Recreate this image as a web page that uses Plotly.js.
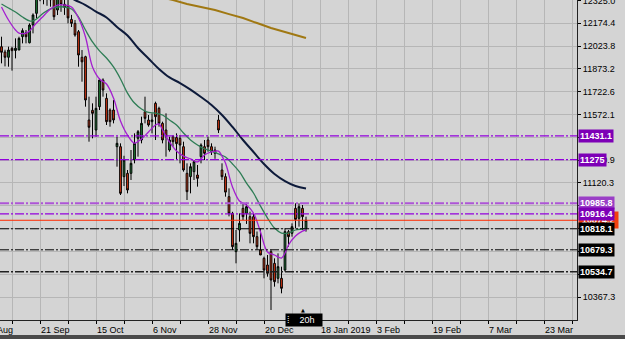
<!DOCTYPE html>
<html><head><meta charset="utf-8">
<script src="https://cdn.plot.ly/plotly-3.0.1.min.js"></script>
<style>html,body{margin:0;padding:0;background:#d4d4d4;overflow:hidden}
#wrap{position:relative;width:625px;height:339px}
#strip{position:absolute;left:0;top:335px;width:625px;height:4px;background:#4a4a4a}</style>
</head><body><div id="wrap"><div id="chart" style="width:625px;height:339px"></div><div id="strip"></div></div>
<script>
const dates = ['6 Sep','7 Sep','10 Sep','11 Sep','12 Sep','13 Sep','14 Sep','17 Sep','18 Sep','19 Sep','20 Sep','21 Sep','24 Sep','25 Sep','26 Sep','27 Sep','28 Sep',
'1 Oct','2 Oct','3 Oct','4 Oct','5 Oct','8 Oct','9 Oct','10 Oct','11 Oct','12 Oct','15 Oct','16 Oct','17 Oct','18 Oct','19 Oct','22 Oct','23 Oct','24 Oct','25 Oct','26 Oct','29 Oct','30 Oct','31 Oct',
'1 Nov','2 Nov','5 Nov','6 Nov','7 Nov','8 Nov','9 Nov','12 Nov','13 Nov','14 Nov','15 Nov','16 Nov','19 Nov','20 Nov','21 Nov','22 Nov','23 Nov','26 Nov','27 Nov','28 Nov','29 Nov','30 Nov',
'3 Dec','4 Dec','5 Dec','6 Dec','7 Dec','10 Dec','11 Dec','12 Dec','13 Dec','14 Dec','17 Dec','18 Dec','19 Dec','20 Dec','21 Dec','27 Dec','28 Dec',
'2 Jan','3 Jan','4 Jan','7 Jan','8 Jan','9 Jan','10 Jan','11 Jan','14 Jan'];
const openP  = [12020,11985,11950,12009,11995,11998,12086,12112,12046,12163,12240,12330,12420,12350,12380,12340,12262,12350,12300,12290,12200,12174,12119,11950,11954,11536,11600,11470,11624,11800,11679,11602,11602,11360,11360,11162,11184,11184,11272,11415,11404,11591,11536,11525,11646,11613,11514,11470,11338,11426,11420,11415,11360,11184,11162,11195,11173,11294,11360,11404,11360,11338,11536,11206,11162,11030,10920,10667,10810,10953,10920,10898,10898,10766,10678,10623,10579,10667,10590,10491,10491,10546,10799,10788,10953,10887,10953,10821];
const highP  = [12086,12000,12020,12020,12075,12086,12141,12130,12174,12240,12400,12460,12440,12400,12420,12370,12380,12400,12360,12330,12230,12196,12130,11998,11960,11690,11646,11690,11811,11811,11712,11613,11668,11426,11382,11300,11206,11338,11448,11470,11558,11690,11569,11580,11657,11624,11525,11580,11426,11437,11448,11437,11393,11250,11250,11272,11239,11382,11404,11426,11382,11360,11569,11250,11184,11085,10930,10810,10920,10986,10990,10931,10920,10800,10821,10634,10645,10680,10623,10656,10568,10821,10810,10854,10986,10986,10975,10898];
const lowP   = [11910,11890,11888,11862,11943,11998,12042,12042,12042,12108,12207,12320,12300,12290,12284,12196,12229,12250,12230,12174,12150,12086,11888,11789,11624,11393,11415,11426,11602,11690,11503,11492,11514,11228,11041,11100,11052,11140,11250,11294,11382,11514,11492,11448,11404,11492,11382,11294,11327,11360,11272,11250,11195,11008,11052,11140,11096,11250,11272,11327,11305,11280,11450,11140,11030,10900,10678,10590,10733,10876,10850,10722,10722,10680,10645,10491,10502,10282,10436,10458,10392,10535,10700,10766,10821,10832,10810,10799];
const closeP = [11983,11950,11998,11994,12010,12075,12126,12086,12163,12229,12340,12430,12350,12370,12330,12218,12350,12300,12280,12210,12174,12097,11965,11920,11668,11488,11580,11613,11800,11734,11525,11525,11536,11382,11052,11272,11074,11250,11382,11459,11514,11547,11503,11536,11558,11514,11404,11426,11404,11393,11380,11371,11206,11063,11228,11261,11151,11371,11316,11360,11327,11316,11470,11162,11060,10920,10700,10722,10854,10898,10964,10788,10766,10700,10645,10546,10524,10480,10469,10568,10425,10799,10766,10832,10880,10964,10898,10874];

// moving-average lines (bar position, price)
const slowMaX = [15,18,21,24,27,30,33,36,39,42,45,48,51,54,57,60,63,66,69,72,75,78,81,84,87];
const slowMaY = [12400,12365,12328,12295,12252,12213,12150,12094,12011,11942,11873,11817,11780,11737,11688,11635,11569,11490,11404,11325,11246,11180,11133,11100,11084];
const longMaX = [41,45,49,53,57,61,65,69,73,77,81,85,87];
const longMaY = [12370,12350,12328,12302,12281,12262,12235,12209,12176,12143,12117,12090,12077];
const midMaX = [0,2,4,6,8,9,10,12,14,16,18,20,22,24,26,28,30,32,34,36,38,40,42,44,46,48,50,52,54,56,58,60,62,64,66,68,70,72,74,76,78,80,82,84,86,87];
const midMaY = [12302,12275,12249,12216,12190,12190,12203,12242,12269,12282,12282,12269,12216,12130,12051,11992,11945,11886,11807,11714,11648,11609,11586,11582,11569,11536,11503,11450,11404,11371,11345,11331,11312,11292,11246,11193,11120,11054,10968,10889,10823,10790,10790,10810,10817,10823];
const fastMaX = [0,2,4,5,7,8,10,12,14,16,18,20,22,24,26,28,30,32,34,36,38,40,42,44,45,46,48,50,52,54,56,58,60,62,63,64,66,68,70,72,74,76,78,80,81,82,84,86,87];
const fastMaY = [12282,12196,12130,12110,12110,12124,12176,12223,12269,12295,12295,12282,12209,12084,11886,11807,11774,11681,11530,11437,11384,11411,11457,11503,11510,11470,11391,11331,11298,11279,11259,11305,11325,11331,11298,11252,11094,11001,10975,10922,10797,10665,10645,10625,10658,10711,10770,10803,10810];

const yTickVals = [12325.0,12174.4,12023.8,11873.2,11722.6,11572.1,11421.5,11270.9,11120.3,10969.7,10819.1,10668.5,10517.9,10367.3];
const yTickShown = [true,true,true,true,true,true,false,true,true,false,false,false,false,true];
const xLabelPos = [11,27,43,59,75,91,107,123,139,155];
const xLabelText = ['21 Sep','15 Oct','6 Nov','28 Nov','20 Dec','18 Jan 2019','3 Feb','19 Feb','7 Mar','23 Mar'];

const levelVals   = [11431.1, 11275, 10985.8, 10916.4, 10818.1, 10679.3, 10534.7];
const levelLabels = ['11431.1','11275','10985.8','10916.4','10818.1','10679.3','10534.7'];
const levelColors = ['#9200dc','#9200dc','#ad55d6','#9200dc','#000000','#000000','#202020'];
const levelWidths = [1.3,1.3,2,1.3,1,1,1.5];
const levelBoxes  = ['#7d00b6','#7d00b6','#9a3fc6','#7d00b6','#000000','#000000','#000000'];
const bidPrice = 10874.2;

const xIdx = dates.map((d,i)=>i);
const X0 = -0.43, X1 = 164.43;

const traces = [
 {type:'candlestick', x:xIdx, open:openP, high:highP, low:lowP, close:closeP, text:dates,
  increasing:{line:{color:'#000000',width:1}, fillcolor:'#1f8a3c'},
  decreasing:{line:{color:'#000000',width:1}, fillcolor:'#f23c14'},
  whiskerwidth:0, hoverinfo:'skip'},
 {type:'scatter', mode:'lines', x:longMaX, y:longMaY, line:{color:'#a07812',width:2}, hoverinfo:'skip'},
 {type:'scatter', mode:'lines', x:slowMaX, y:slowMaY, line:{color:'#0d1a3a',width:2,shape:'spline'}, hoverinfo:'skip'},
 {type:'scatter', mode:'lines', x:midMaX, y:midMaY, line:{color:'#2e7d55',width:1.3,shape:'spline'}, hoverinfo:'skip'},
 {type:'scatter', mode:'lines', x:fastMaX, y:fastMaY, line:{color:'#a41fd0',width:1.3,shape:'spline'}, hoverinfo:'skip'}
];

const gridVals = []; for (let v=3; v<=163; v+=8) gridVals.push(v);

const shapes = [];
levelVals.forEach((v,i)=>{
  shapes.push({type:'line', xref:'paper', x0:0, x1:1, yref:'y', y0:v, y1:v, layer:'above',
    line:{color:levelColors[i], width:levelWidths[i], dash:'9px,2px,2px,2px'}});
});
shapes.push({type:'line', xref:'paper', x0:0, x1:1, yref:'y', y0:bidPrice, y1:bidPrice, layer:'above', line:{color:'#ff2a00',width:1}});

const ann = [];
// current bid label (mostly hidden behind the level labels)
ann.push({xref:'paper', x:1, xanchor:'left', xshift:1, yref:'y', y:bidPrice, yanchor:'middle', text:'10874.2', showarrow:false,
  bgcolor:'#f2400f', borderpad:3, font:{family:'Liberation Sans', size:9, color:'#ffffff', weight:'bold'}});
levelVals.forEach((v,i)=>{
  ann.push({xref:'paper', x:1, xanchor:'left', xshift:1, yref:'y', y:v, yanchor:'middle', text:levelLabels[i], showarrow:false,
    bgcolor: levelBoxes[i], borderpad:1,
    font:{family:'Liberation Sans', size:9, color:'#ffffff', weight:'bold'}});
});
xLabelPos.forEach((p,i)=>{
  ann.push({xref:'x', x:p, xanchor:'left', xshift:-1, yref:'paper', y:0, yanchor:'top', yshift:-3, text:xLabelText[i], showarrow:false,
    font:{family:'Liberation Sans', size:9, color:'#000000'}});
});
ann.push({xref:'paper', x:(-5-X0)/(X1-X0), xanchor:'left', xshift:-1, yref:'paper', y:0, yanchor:'top', yshift:-3, text:'30 Aug', showarrow:false,
    font:{family:'Liberation Sans', size:9, color:'#000000'}});
ann.push({xref:'x', x:81, xanchor:'left', yref:'paper', y:0, yanchor:'middle', text:'⁞    20h', showarrow:false, width:34, align:'left',
    bgcolor:'#000000', borderpad:1, font:{family:'Liberation Sans', size:9, color:'#ffffff'}});
ann.push({xref:'x', x:86, xanchor:'center', yref:'paper', y:0, yanchor:'bottom', yshift:5, text:'▲', showarrow:false,
    font:{family:'DejaVu Sans', size:5, color:'#000000'}});

const layout = {
  width:625, height:339,
  margin:{l:0, r:48, t:0, b:19, pad:0},
  paper_bgcolor:'#d4d4d4', plot_bgcolor:'#d4d4d4',
  showlegend:false, hovermode:false, boxgap:0.3,
  font:{family:'Liberation Sans', size:9, color:'#000'},
  xaxis:{range:[X0,X1], tickmode:'array', tickvals:gridVals, showticklabels:false,
    ticks:'outside', ticklen:3, tickcolor:'#000', showgrid:true, gridcolor:'#b6b6b6', gridwidth:1,
    zeroline:false, showline:true, linecolor:'#222', linewidth:1, rangeslider:{visible:false}, fixedrange:true},
  yaxis:{side:'right', range:[10215.9,12328.2], tickmode:'array', tickvals:yTickVals,
    ticktext:yTickVals.map((v,i)=> yTickShown[i] ? v.toFixed(1) : ''), ticks:'outside', ticklen:3, tickcolor:'#000',
    ticklabeloverflow:'allow',
    showgrid:true, gridcolor:'#b6b6b6', zeroline:false, showline:true, linecolor:'#222', linewidth:1,
    tickfont:{family:'Liberation Sans', size:9, color:'#000'}, fixedrange:true},
  shapes:shapes, annotations:ann
};
Plotly.newPlot('chart', traces, layout, {displayModeBar:false, staticPlot:true});
</script></body></html>
